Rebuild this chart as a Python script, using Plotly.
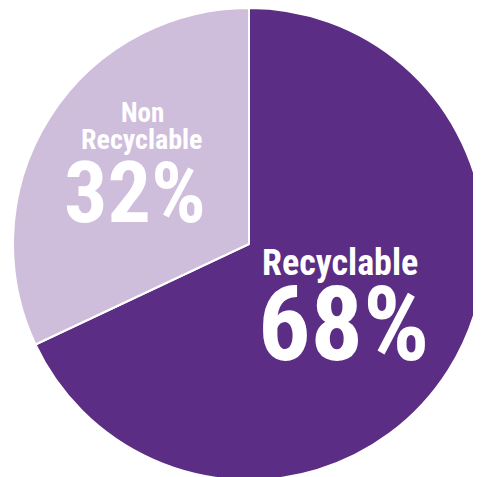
import plotly.graph_objects as go

labels = ["Recyclable", "Non Recyclable"]
values = [68, 32]
colors = ["#5B2D84", "#CFBDDC"]

W, H = 481, 477
OFF = 8  # default body margin of the page
fig = go.Figure(go.Pie(
    labels=labels, values=values, sort=False, direction="clockwise", rotation=0,
    marker=dict(colors=colors, line=dict(color="white", width=2)),
    textinfo="none", hoverinfo="label+percent",
    domain=dict(x=[5/W, 477/W], y=[1 - 472/H, 1.0]),
))

FONT = "Roboto Condensed, Open Sans Condensed, Roboto, sans-serif"
def ann(text, x, y, size):
    fig.add_annotation(text="<b>%s</b>" % text, x=(x-OFF)/W, y=1-(y-OFF)/H, xref="paper", yref="paper",
                       showarrow=False, xanchor="center", yanchor="middle",
                       font=dict(family=FONT, size=size, color="white"))

ann(labels[0], 340, 263, 36)
ann("%d%%" % values[0], 344, 324, 104)
ann("Non", 142, 113, 27)
ann("Recyclable", 142, 140, 28)
ann("%d%%" % values[1], 135, 192, 86)

fig.update_layout(width=W, height=H, margin=dict(l=0, r=0, t=0, b=0),
                  showlegend=False, paper_bgcolor="white", plot_bgcolor="white")
fig.write_html("out.html")
